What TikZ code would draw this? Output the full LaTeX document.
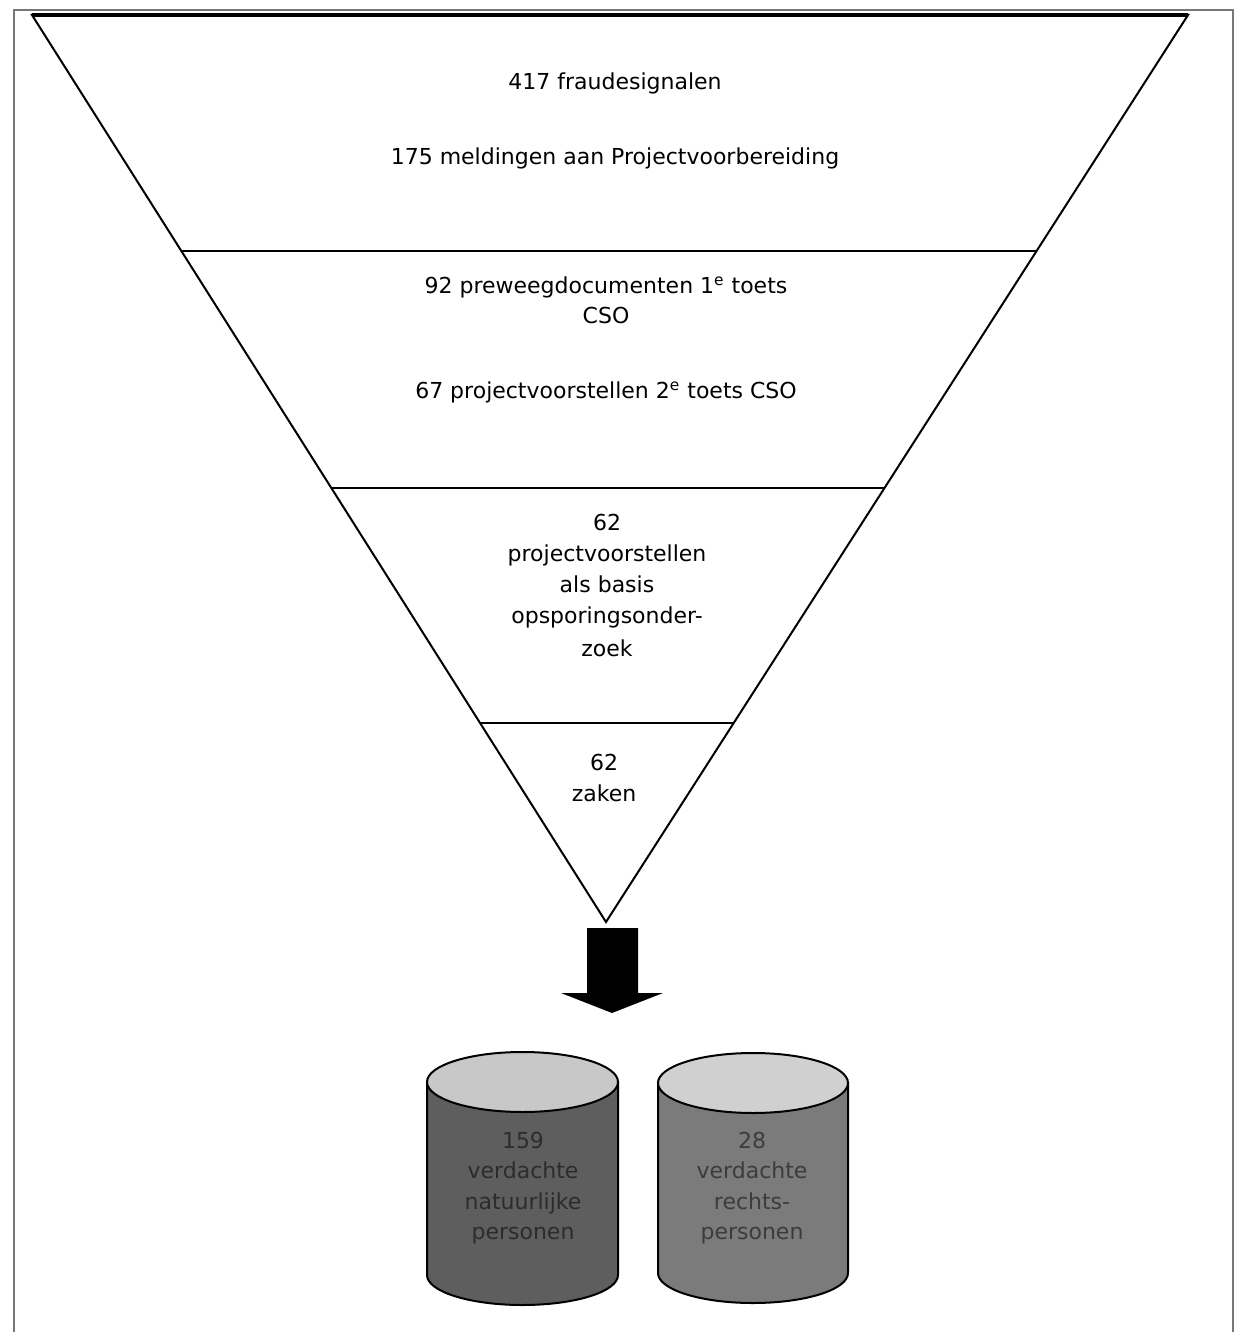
\documentclass[tikz,border=0pt]{standalone}
\usepackage{fontspec}
\setmainfont{DejaVu Sans}
\usepackage{tikz}
\usetikzlibrary{calc}
\definecolor{framecol}{HTML}{777777}
\definecolor{canAside}{HTML}{5e5e5e}
\definecolor{canAtop}{HTML}{c8c8c8}
\definecolor{canAtext}{HTML}{2c2c2c}
\definecolor{canBside}{HTML}{7b7b7b}
\definecolor{canBtop}{HTML}{d0d0d0}
\definecolor{canBtext}{HTML}{3c3c3c}

\begin{document}
\begin{tikzpicture}[x=0.5pt, y=0.5pt,
    lbl/.style={anchor=base, inner sep=0pt, font=\fontsize{11}{14}\selectfont}]
    \useasboundingbox (0,0) rectangle (1238,-1332);
    % Frame
    \draw[framecol, line width=0.75pt] (14,-1340) -- (14,-10) -- (1233,-10) -- (1233,-1340);
    % Funnel
    \coordinate (tl) at (32,-15);
    \coordinate (tr) at (1188,-15);
    \coordinate (apex) at (606,-922);
    \draw[line width=1pt, line join=miter] (tl) -- (tr) -- (apex) -- cycle;
    \draw[line width=1.6pt] (tl) -- (tr);
    \foreach \f in {0.2602, 0.5215, 0.7806}{
      \draw[line width=1pt] ($(tl)!\f!(apex)$) -- ($(tr)!\f!(apex)$);
    }
    % Band 1
    \node[lbl] (sig) at (615,-90) {417 fraudesignalen};
    \node[lbl] (meld) at (615,-165) {175 meldingen aan Projectvoorbereiding};
    % Band 2
    \node[lbl] (prew) at (606,-293) {92 preweegdocumenten 1\textsuperscript{e} toets};
    \node[lbl] (prewcso) at (606,-323) {CSO};
    \node[lbl] (prop) at (606,-398) {67 projectvoorstellen 2\textsuperscript{e} toets CSO};
    % Band 3
    \foreach \yb/\txt [count=\i] in {530/62, 561/projectvoorstellen, 592/als basis, 623/opsporingsonder-, 656/zoek}{
      \node[lbl] (basis\i) at (607,-\yb) {\txt};
    }
    % Band 4
    \node[lbl] (zaak1) at (604,-770) {62};
    \node[lbl] (zaak2) at (604,-801) {zaken};
    % Arrow
    \fill (587,-928) -- (638,-928) -- (638,-993) -- (663,-993) -- (612,-1013)
      -- (561,-993) -- (587,-993) -- cycle;
    % Cylinders
    \newcommand{\drawcan}[6]{%
      \filldraw[fill=#5, line width=1pt] (#1-#2,-#3) -- (#1-#2,-#4)
        arc[start angle=180, end angle=360, x radius=#2, y radius=30] -- (#1+#2,-#3) -- cycle;%
      \filldraw[fill=#6, line width=1pt] (#1,-#3) ellipse [x radius=#2, y radius=30];%
    }
    \drawcan{522.5}{95.5}{1082}{1275}{canAside}{canAtop}
    \drawcan{753}{95}{1083}{1273}{canBside}{canBtop}
    \foreach \yb/\txt [count=\i] in {1148/159, 1178/verdachte, 1209/natuurlijke, 1239/personen}{
      \node[lbl, text=canAtext] (nat\i) at (523,-\yb) {\txt};
    }
    \foreach \yb/\txt [count=\i] in {1148/28, 1178/verdachte, 1209/rechts-, 1239/personen}{
      \node[lbl, text=canBtext] (rp\i) at (752,-\yb) {\txt};
    }
\end{tikzpicture}
\end{document}
